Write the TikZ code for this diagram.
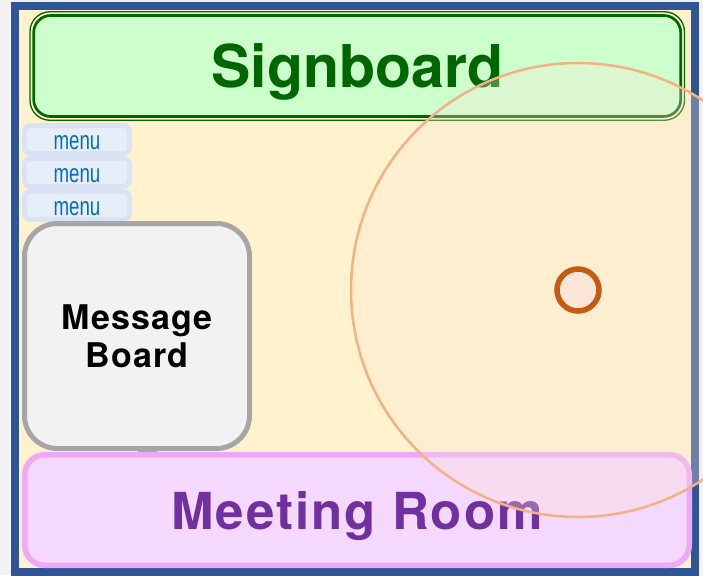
\documentclass[tikz,border=0pt]{standalone}
\usepackage{fontspec}
\setmainfont{Liberation Sans}
\newfontfamily\signfont{texgyreheros-bold.otf}
\newfontfamily\roomfont[LetterSpace=4]{texgyreheros-bold.otf}
\newfontfamily\msgfont[LetterSpace=3]{texgyreheros-bold.otf}
\newfontfamily\menufont[FakeStretch=0.72]{Liberation Sans}
\usetikzlibrary{positioning}

\definecolor{bgc}{HTML}{F2F2F2}
\definecolor{framec}{HTML}{2F5597}
\definecolor{paperc}{HTML}{FFF2CC}
\definecolor{signfill}{HTML}{CCFFCC}
\definecolor{signline}{HTML}{006600}
\definecolor{menufill}{HTML}{E6EEF9}
\definecolor{menuline}{HTML}{DAE3F3}
\definecolor{menutext}{HTML}{0070C0}
\definecolor{msgfill}{HTML}{F2F2F2}
\definecolor{msgline}{HTML}{A6A6A6}
\definecolor{roomfill}{HTML}{F5D8FE}
\definecolor{roomline}{HTML}{EEA8F7}
\definecolor{roomtext}{HTML}{7030A0}
\definecolor{rangefill}{HTML}{FBE5D6}
\definecolor{rangeline}{HTML}{F4B183}
\definecolor{dotline}{HTML}{C55A11}

\begin{document}
\begin{tikzpicture}[x=1pt, y=-1pt,
    panel/.style={draw, rounded corners, inner sep=0pt},
    menubox/.style={panel, draw=menuline, fill=menufill, line width=5pt,
        rounded corners=6pt, minimum width=105pt, minimum height=28pt,
        text height=19pt, text depth=0pt,
        text=menutext, font=\menufont\fontsize{26}{28}\selectfont}]

            \useasboundingbox (0,0) rectangle (703,575);
            \fill[bgc] (0,0) rectangle (703,575);

            \node[draw=framec, fill=paperc, line width=8pt, inner sep=0pt,
                minimum width=680pt, minimum height=566pt] (frame) at (355,289) {};

            \node[panel, draw=signline, fill=signfill, line width=2.7pt, rounded corners=17pt,
                minimum width=647pt, minimum height=101pt, text depth=0pt,
                text=signline, font=\signfont\fontsize{59}{62}\selectfont] (sign) at (357.2,66) {Signboard};
            \draw[signline, line width=1.3pt, rounded corners=20pt]
                ([shift={(-2.4pt,2.4pt)}]sign.north west) rectangle ([shift={(2.4pt,-2.4pt)}]sign.south east);

            \node[menubox] (menu1) at (77,139.5) {menu};
            \node[menubox, below=0pt of menu1] (menu2) {menu};
            \node[menubox, below=0pt of menu2] (menu3) {menu};

            \node[panel, draw=msgline, fill=msgfill, line width=5pt, rounded corners=33pt,
                minimum width=225pt, minimum height=225pt, align=center,
                font=\msgfont\fontsize{34}{38}\selectfont] (msg) at (137,336) {Message\\Board};
            \node[fill=msgline, inner sep=0pt, minimum width=19pt, minimum height=6pt] (tab) at (147.5,449) {};

            \node[panel, draw=roomline, fill=roomfill, line width=5.5pt, rounded corners=20pt,
                minimum width=664.5pt, minimum height=110.5pt, text depth=0pt,
                text=roomtext, font=\roomfont\fontsize{51}{54}\selectfont] (room) at (357,510) {Meeting Room};

            \node[circle, draw=rangeline, fill=rangefill, fill opacity=0.3, line width=2.5pt,
                inner sep=0pt, minimum size=454pt] (range) at (578,290) {};
            \node[circle, draw=dotline, fill=rangefill, line width=5.5pt,
                inner sep=0pt, minimum size=42pt] (dot) at (range.center) {};

        \end{tikzpicture}
\end{document}
